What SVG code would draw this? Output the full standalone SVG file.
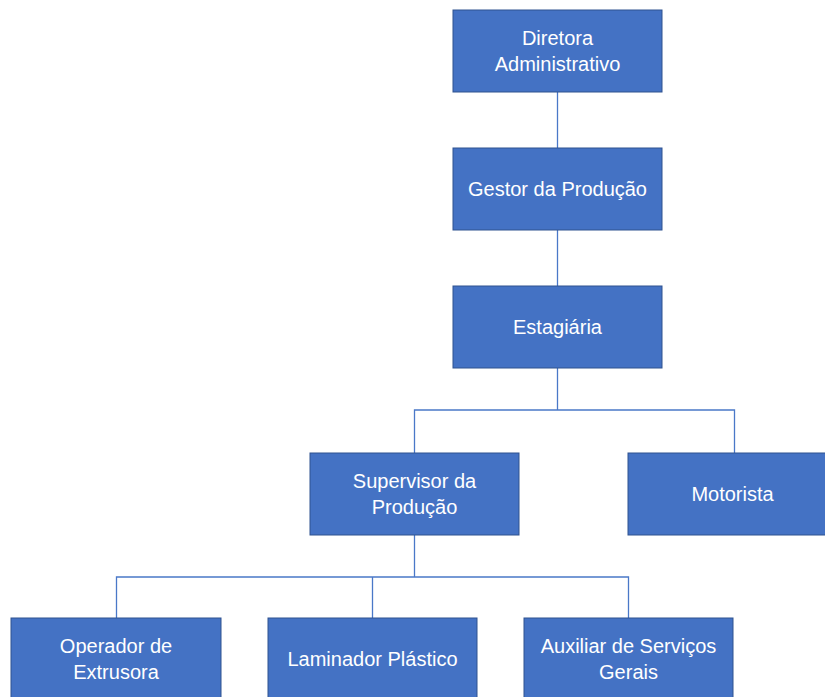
<svg xmlns="http://www.w3.org/2000/svg" width="825" height="697" viewBox="0 0 825 697">
<style>
.box{fill:#4472C4;stroke:#2F528F;stroke-width:1}
.t{fill:#FFFFFF;font-family:"Liberation Sans",Arial,sans-serif;font-size:20px;text-anchor:middle}
.c{fill:none;stroke:#4A78C8;stroke-width:1.3}
</style>
<rect width="825" height="697" fill="#FFFFFF"/>
<g id="connectors">
<path class="c" d="M557.5 92V148"/>
<path class="c" d="M557.5 230V286"/>
<path class="c" d="M557.5 368V410M414.5 453V410H734.5V453"/>
<path class="c" d="M414.5 535V577M116.5 618V577H628.5V618M372.5 577V618"/>
</g>
<g id="diretora">
<rect class="box" x="453" y="10" width="209" height="82"/>
<text class="t" x="557.5" y="45">Diretora</text>
<text class="t" x="557.5" y="71">Administrativo</text>
</g>
<g id="gestor">
<rect class="box" x="453" y="148" width="209" height="82"/>
<text class="t" x="557.5" y="196">Gestor da Produção</text>
</g>
<g id="estagiaria">
<rect class="box" x="453" y="286" width="209" height="82"/>
<text class="t" x="557.5" y="334">Estagiária</text>
</g>
<g id="supervisor">
<rect class="box" x="310" y="453" width="209" height="82"/>
<text class="t" x="414.5" y="488">Supervisor da</text>
<text class="t" x="414.5" y="514">Produção</text>
</g>
<g id="motorista">
<rect class="box" x="628" y="453" width="209" height="82"/>
<text class="t" x="732.5" y="501">Motorista</text>
</g>
<g id="operador">
<rect class="box" x="11" y="618" width="210" height="82"/>
<text class="t" x="116" y="653">Operador de</text>
<text class="t" x="116" y="679">Extrusora</text>
</g>
<g id="laminador">
<rect class="box" x="268" y="618" width="209" height="82"/>
<text class="t" x="372.5" y="666">Laminador Plástico</text>
</g>
<g id="auxiliar">
<rect class="box" x="524" y="618" width="209" height="82"/>
<text class="t" x="628.5" y="653">Auxiliar de Serviços</text>
<text class="t" x="628.5" y="679">Gerais</text>
</g>
</svg>
